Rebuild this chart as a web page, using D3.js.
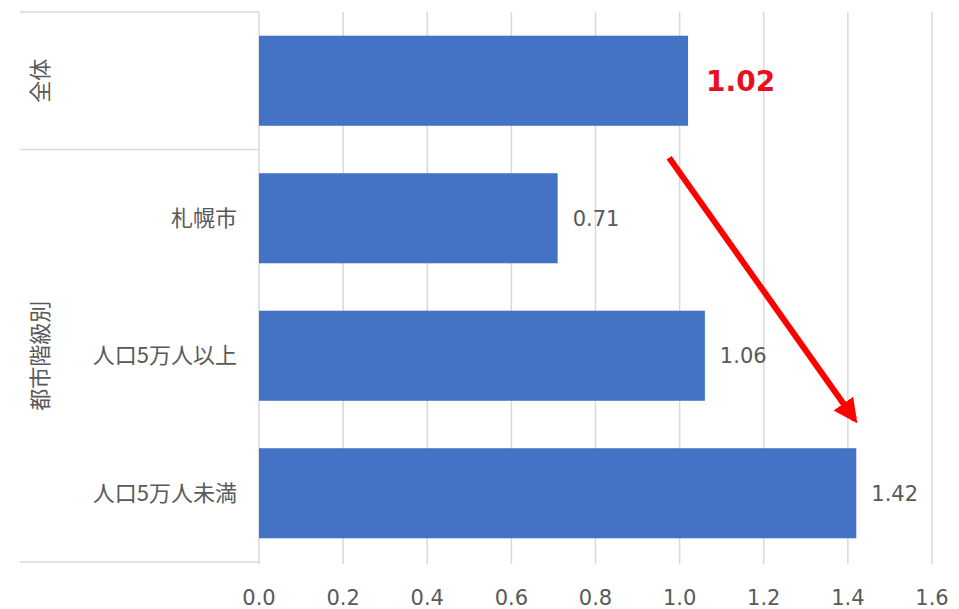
<!DOCTYPE html>
<html>
<head>
<meta charset="utf-8">
<script src="https://cdn.jsdelivr.net/npm/d3@7"></script>
<style>
  body { margin: 0; background: #fff; }
  svg text { font-family: "Noto Sans CJK JP", "Noto Sans", sans-serif; }
  svg text.num { font-family: "DejaVu Sans", sans-serif; }
</style>
</head>
<body>
<div id="chart"></div>
<script>
categories = ["全体", "札幌市", "人口5万人以上", "人口5万人未満"]
values = [1.02, 0.71, 1.06, 1.42]
groups = [
  {name: "全体", from: 0, to: 1},
  {name: "都市階級別", from: 1, to: 4}
]
tickValues = [0, 0.2, 0.4, 0.6, 0.8, 1.0, 1.2, 1.4, 1.6]
// arrow in data space: value on x, category index position on y
arrowStart = {v: 0.975, idx: 1.06}
arrowEnd = {v: 1.43, idx: 3.02}

var width = 959, height = 609
var plotLeft = 259, plotRight = 932, plotTop = 12, plotBottom = 562

var svg = d3.select("#chart").append("svg")
  .attr("width", width)
  .attr("height", height)

var x = d3.scaleLinear().domain([0, 1.6]).range([plotLeft, plotRight])
var y = d3.scaleBand().domain(categories).range([plotTop, plotBottom]).paddingInner(0.345).paddingOuter(0.1725)
var yIdx = d3.scaleLinear().domain([0, categories.length]).range([plotTop, plotBottom])

// gridlines
svg.append("g")
  .selectAll("line")
  .data(tickValues)
  .enter()
  .append("line")
  .attr("x1", function(d){ return x(d) })
  .attr("x2", function(d){ return x(d) })
  .attr("y1", plotTop)
  .attr("y2", plotBottom + 2)
  .attr("stroke", "#d9d9d9")
  .attr("stroke-width", 1.5)

// left category panel lines
svg.append("g")
  .selectAll("line")
  .data([0, 1, 4])
  .enter()
  .append("line")
  .attr("x1", 20)
  .attr("x2", plotLeft)
  .attr("y1", function(d){ return yIdx(d) })
  .attr("y2", function(d){ return yIdx(d) })
  .attr("stroke", "#d9d9d9")
  .attr("stroke-width", 1.5)

// bars
svg.append("g")
  .selectAll("rect")
  .data(values)
  .enter()
  .append("rect")
  .attr("x", x(0))
  .attr("y", function(d, i){ return y(categories[i]) })
  .attr("width", function(d){ return x(d) - x(0) })
  .attr("height", y.bandwidth())
  .attr("fill", "#4472c4")

// value labels
svg.append("g")
  .selectAll("text")
  .data(values)
  .enter()
  .append("text")
  .attr("class", "num")
  .attr("x", function(d, i){ return x(d) + (i == 0 ? 18 : 15) })
  .attr("y", function(d, i){ return y(categories[i]) + y.bandwidth() / 2 })
  .attr("dy", "0.36em")
  .attr("font-size", function(d, i){ return i == 0 ? 28 : 21 })
  .attr("font-weight", function(d, i){ return i == 0 ? "bold" : "normal" })
  .attr("fill", function(d, i){ return i == 0 ? "#e8101f" : "#595959" })
  .text(function(d){ return d.toFixed(2) })

// category labels (not for the first, which is a group on its own)
svg.append("g")
  .selectAll("text")
  .data(categories.slice(1))
  .enter()
  .append("text")
  .attr("x", 237)
  .attr("y", function(d){ return y(d) + y.bandwidth() / 2 })
  .attr("dy", "0.35em")
  .attr("text-anchor", "end")
  .attr("font-size", 22)
  .attr("fill", "#595959")
  .text(function(d){ return d })

// group labels, rotated
svg.append("g")
  .selectAll("text")
  .data(groups)
  .enter()
  .append("text")
  .attr("transform", function(d){
    var cy = (yIdx(d.from) + yIdx(d.to)) / 2
    return "translate(40," + cy + ") rotate(-90)"
  })
  .attr("dy", "0.35em")
  .attr("text-anchor", "middle")
  .attr("font-size", 22)
  .attr("fill", "#595959")
  .text(function(d){ return d.name })

// x axis tick labels
svg.append("g")
  .selectAll("text")
  .data(tickValues)
  .enter()
  .append("text")
  .attr("class", "num")
  .attr("x", function(d){ return x(d) })
  .attr("y", 597)
  .attr("dy", "0.36em")
  .attr("text-anchor", "middle")
  .attr("font-size", 21)
  .attr("fill", "#595959")
  .text(function(d){ return d.toFixed(1) })

// red arrow annotation
var defs = svg.append("defs")
defs.append("marker")
  .attr("id", "arrowHead")
  .attr("viewBox", "0 0 10 10")
  .attr("refX", 8)
  .attr("refY", 5)
  .attr("markerWidth", 4)
  .attr("markerHeight", 4)
  .attr("markerUnits", "strokeWidth")
  .attr("orient", "auto")
  .append("path")
  .attr("d", "M0,0 L10,5 L0,10 Z")
  .attr("fill", "#ff0000")

svg.append("line")
  .attr("x1", x(arrowStart.v))
  .attr("y1", yIdx(arrowStart.idx))
  .attr("x2", x(arrowEnd.v) - 6)
  .attr("y2", yIdx(arrowEnd.idx) - 8)
  .attr("stroke", "#ff0000")
  .attr("stroke-width", 6)
  .attr("marker-end", "url(#arrowHead)")
</script>
</body>
</html>
